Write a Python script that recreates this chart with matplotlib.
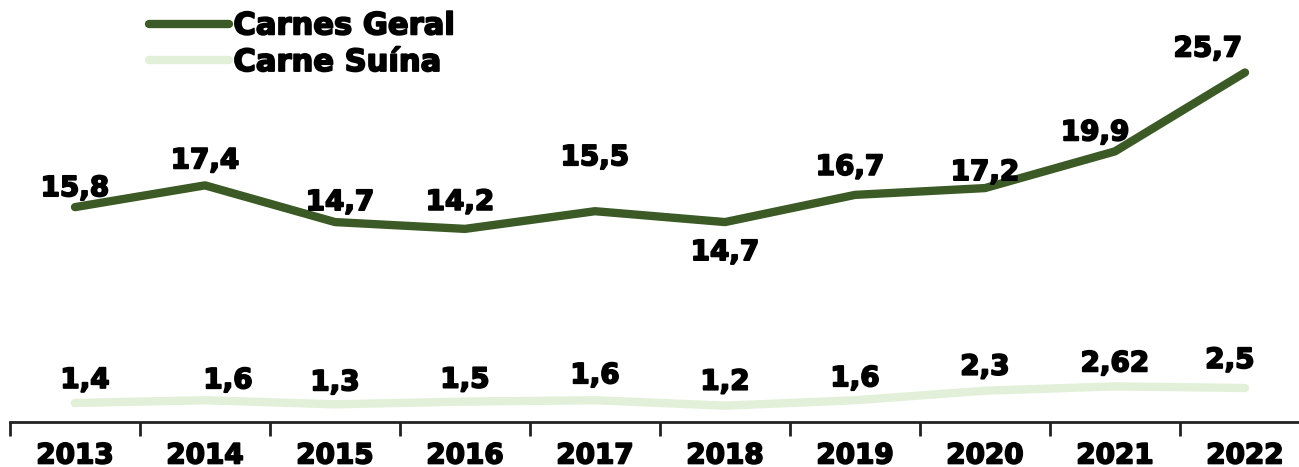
import matplotlib
matplotlib.use("Agg")
import matplotlib.pyplot as plt
import matplotlib.patheffects as pe
from matplotlib.ticker import FixedLocator

years = ["2013", "2014", "2015", "2016", "2017", "2018", "2019", "2020", "2021", "2022"]
carnes_geral = [15.8, 17.4, 14.7, 14.2, 15.5, 14.7, 16.7, 17.2, 19.9, 25.7]
carne_suina = [1.4, 1.6, 1.3, 1.5, 1.6, 1.2, 1.6, 2.3, 2.62, 2.5]
carnes_labels = ["15,8", "17,4", "14,7", "14,2", "15,5", "14,7", "16,7", "17,2", "19,9", "25,7"]
suina_labels = ["1,4", "1,6", "1,3", "1,5", "1,6", "1,2", "1,6", "2,3", "2,62", "2,5"]

# label offsets (pixels) relative to the data points
carnes_off = [(0, 19), (0, 25), (5, 20), (-5, 27), (0, 54), (0, -30), (-5, 28), (0, 16), (-20, 19), (-37, 24)]
suina_off = [(10, 23), (23, 20), (0, 22), (0, 22), (0, 25), (0, 24), (0, 22), (0, 24), (0, 23), (-15, 28)]

dark = "#3b5a25"
light = "#e2efd9"
bold_fx = [pe.withStroke(linewidth=1.3, foreground="black")]

fig = plt.figure(figsize=(12.99, 4.67), dpi=100)
W, H = 1299, 467
left_px, right_px, bottom_px, top_px = 10, 1310, 422, 14
ax = fig.add_axes([left_px / W, 1 - bottom_px / H, (right_px - left_px) / W, (bottom_px - top_px) / H])

x = list(range(len(years)))
ax.plot(x, carnes_geral, color=dark, lw=6, solid_capstyle="round", solid_joinstyle="round", label="Carnes Geral")
ax.plot(x, carne_suina, color=light, lw=6, solid_capstyle="round", solid_joinstyle="round", label="Carne Suína")

fs = 20
for xi, v, t, (dx, dy) in zip(x, carnes_geral, carnes_labels, carnes_off):
    ax.annotate(t, (xi, v), xytext=(dx, dy), textcoords="offset pixels", ha="center", va="center",
                fontsize=fs, fontweight="bold", family="DejaVu Sans", color="black", path_effects=bold_fx)
for xi, v, t, (dx, dy) in zip(x, carne_suina, suina_labels, suina_off):
    ax.annotate(t, (xi, v), xytext=(dx, dy), textcoords="offset pixels", ha="center", va="center",
                fontsize=fs, fontweight="bold", family="DejaVu Sans", color="black", path_effects=bold_fx)

ax.set_xlim(-0.5, len(years) - 0.5)
ax.set_ylim(0, 30)
for s in ["top", "right", "left"]:
    ax.spines[s].set_visible(False)
ax.spines["bottom"].set_linewidth(2)
ax.spines["bottom"].set_color("#222222")
ax.set_yticks([])
ax.set_xticks(x)
ax.set_xticklabels(years, fontsize=fs, fontweight="bold", family="DejaVu Sans")
for lbl in ax.get_xticklabels():
    lbl.set_path_effects(bold_fx)
ax.tick_params(axis="x", which="major", length=0, pad=14)
ax.xaxis.set_minor_locator(FixedLocator([i - 0.5 for i in range(len(years) + 1)]))
ax.tick_params(axis="x", which="minor", length=10, width=2, color="#222222", direction="out")

leg = ax.legend(loc="upper left", bbox_to_anchor=(128 / W, 1 + 10 / H), bbox_transform=fig.transFigure,
                frameon=False, prop={"family": "DejaVu Sans", "weight": "bold", "size": 22},
                handlelength=2.6, handletextpad=0.15, labelspacing=0.25, borderpad=0.2)
for t in leg.get_texts():
    t.set_path_effects(bold_fx)

fig.savefig("out.png", dpi=100)
